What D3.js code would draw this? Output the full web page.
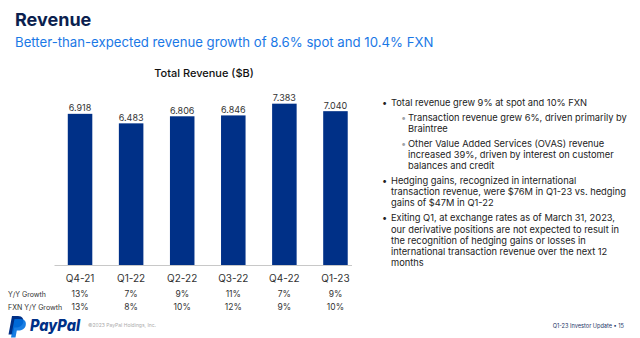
<!DOCTYPE html>
<html>
<head>
<meta charset="utf-8">
<script src="https://cdn.jsdelivr.net/npm/d3@7"></script>
<style>
  body { margin: 0; background: #fff; }
  svg { display: block; font-family: Inter, "Noto Sans", sans-serif; }
</style>
</head>
<body>
<div id="chart"></div>
<script>
var quarters = ["Q4-21", "Q1-22", "Q2-22", "Q3-22", "Q4-22", "Q1-23"];
var revenue = [6.918, 6.483, 6.806, 6.846, 7.383, 7.040];
var yoyGrowth = ["13%", "7%", "9%", "11%", "7%", "9%"];
var fxnGrowth = ["13%", "8%", "10%", "12%", "9%", "10%"];
var rowLabels = ["Y/Y Growth", "FXN Y/Y Growth"];

var bullets = [
  {level: 0, lines: ["Total revenue grew 9% at spot and 10% FXN"]},
  {level: 1, lines: ["Transaction revenue grew 6%, driven primarily by", "Braintree"]},
  {level: 1, lines: ["Other Value Added Services (OVAS) revenue", "increased 39%, driven by interest on customer", "balances and credit"]},
  {level: 0, lines: ["Hedging gains, recognized in international", "transaction revenue, were $76M in Q1-23 vs. hedging", "gains of $47M in Q1-22"]},
  {level: 0, lines: ["Exiting Q1, at exchange rates as of March 31, 2023,", "our derivative positions are not expected to result in", "the recognition of hedging gains or losses in", "international transaction revenue over the next 12", "months"]}
];

var width = 640, height = 338;
var data = quarters.map(function(q, i) {
  return {q: q, v: revenue[i], yoy: yoyGrowth[i], fxn: fxnGrowth[i]};
});

var svg = d3.select("#chart").append("svg")
    .attr("width", width)
    .attr("height", height);

// header
svg.append("text")
    .attr("x", 15)
    .attr("y", 26)
    .attr("font-size", 18)
    .attr("font-weight", 700)
    .attr("fill", "#0b1f4f")
    .text("Revenue");

svg.append("text")
    .attr("x", 15)
    .attr("y", 47)
    .attr("font-size", 13.2)
    .attr("fill", "#1a78e6")
    .text("Better-than-expected revenue growth of 8.6% spot and 10.4% FXN");

// chart
var x = d3.scaleBand()
    .domain(quarters)
    .range([54.5, 361])
    .paddingInner(0.52)
    .paddingOuter(0.26);

var y = d3.scaleLinear()
    .domain([0, 8])
    .range([265, 90.2]);

svg.append("text")
    .attr("x", 204)
    .attr("y", 77)
    .attr("text-anchor", "middle")
    .attr("font-size", 11)
    .attr("font-weight", 500)
    .attr("fill", "#111")
    .text("Total Revenue ($B)");

svg.selectAll(".bar")
    .data(data)
  .enter().append("rect")
    .attr("class", "bar")
    .attr("x", function(d) { return x(d.q); })
    .attr("y", function(d) { return y(d.v); })
    .attr("width", x.bandwidth())
    .attr("height", function(d) { return y(0) - y(d.v); })
    .attr("fill", "#003087");

svg.selectAll(".val")
    .data(data)
  .enter().append("text")
    .attr("class", "val")
    .attr("x", function(d) { return x(d.q) + x.bandwidth() / 2; })
    .attr("y", function(d) { return y(d.v) - 2.5; })
    .attr("text-anchor", "middle")
    .attr("font-size", 9)
    .attr("fill", "#333")
    .text(function(d) { return d.v.toFixed(3); });

var xAxis = svg.append("g")
    .attr("transform", "translate(0," + y(0) + ")")
    .call(d3.axisBottom(x).tickSize(0).tickPadding(10));
xAxis.select(".domain").remove();
xAxis.selectAll("text")
    .attr("font-family", "Inter, sans-serif")
    .attr("font-size", 10)
    .attr("fill", "#333");

svg.append("line")
    .attr("x1", x.range()[0])
    .attr("x2", x.range()[1] - 9)
    .attr("y1", y(0) + 0.5)
    .attr("y2", y(0) + 0.5)
    .attr("stroke", "#c8c8c8");

// growth rows
var rows = [yoyGrowth, fxnGrowth];
rows.forEach(function(row, r) {
  var ry = 297 + r * 12.5;
  svg.append("text")
      .attr("x", 8)
      .attr("y", ry)
      .attr("font-size", 7)
      .attr("fill", "#333")
      .text(rowLabels[r]);
  svg.selectAll(".row" + r)
      .data(data)
    .enter().append("text")
      .attr("class", "row" + r)
      .attr("x", function(d) { return x(d.q) + x.bandwidth() / 2; })
      .attr("y", ry)
      .attr("text-anchor", "middle")
      .attr("font-size", 8.5)
      .attr("fill", "#333")
      .text(function(d) { return r === 0 ? d.yoy : d.fxn; });
});

// bullets
var by = 105.5;
var bl = svg.append("g").attr("font-size", 9.3).attr("fill", "#222");
bullets.forEach(function(b, i) {
  if (i > 0) by += 4;
  var tx = b.level === 0 ? 391 : 408;
  bl.append("text")
      .attr("x", b.level === 0 ? 382 : 401)
      .attr("y", by)
      .attr("fill", b.level === 0 ? "#222" : "#a0a4aa")
      .text("\u2022");
  b.lines.forEach(function(line) {
    bl.append("text").attr("x", tx).attr("y", by).text(line);
    by += 11.1;
  });
});

// footer logo
var logo = svg.append("g").attr("transform", "translate(8,316)");
var pShape = "M4,0 H10 C14.5,0 16,3 15.2,6.5 C14.3,10 11.5,11.5 8,11.5 H6.3 L5,18.5 H0.5 Z";
logo.append("path").attr("d", pShape).attr("fill", "#003087");
logo.append("path").attr("d", pShape).attr("transform", "translate(2.5,3)").attr("fill", "#0070e0").attr("opacity", 0.9);
svg.append("text")
    .attr("x", 30)
    .attr("y", 331)
    .attr("font-size", 16)
    .attr("font-weight", 800)
    .attr("font-style", "italic")
    .attr("fill", "#003087")
    .attr("textLength", 50)
    .attr("lengthAdjust", "spacingAndGlyphs")
    .text("PayPal");

svg.append("text")
    .attr("x", 88)
    .attr("y", 327)
    .attr("font-size", 5)
    .attr("fill", "#aaa")
    .text("\u00a92023 PayPal Holdings, Inc.");

svg.append("text")
    .attr("x", 624)
    .attr("y", 328)
    .attr("text-anchor", "end")
    .attr("font-size", 5.6)
    .attr("fill", "#1c3566")
    .text("Q1-23 Investor Update \u2022 15");
</script>
</body>
</html>
